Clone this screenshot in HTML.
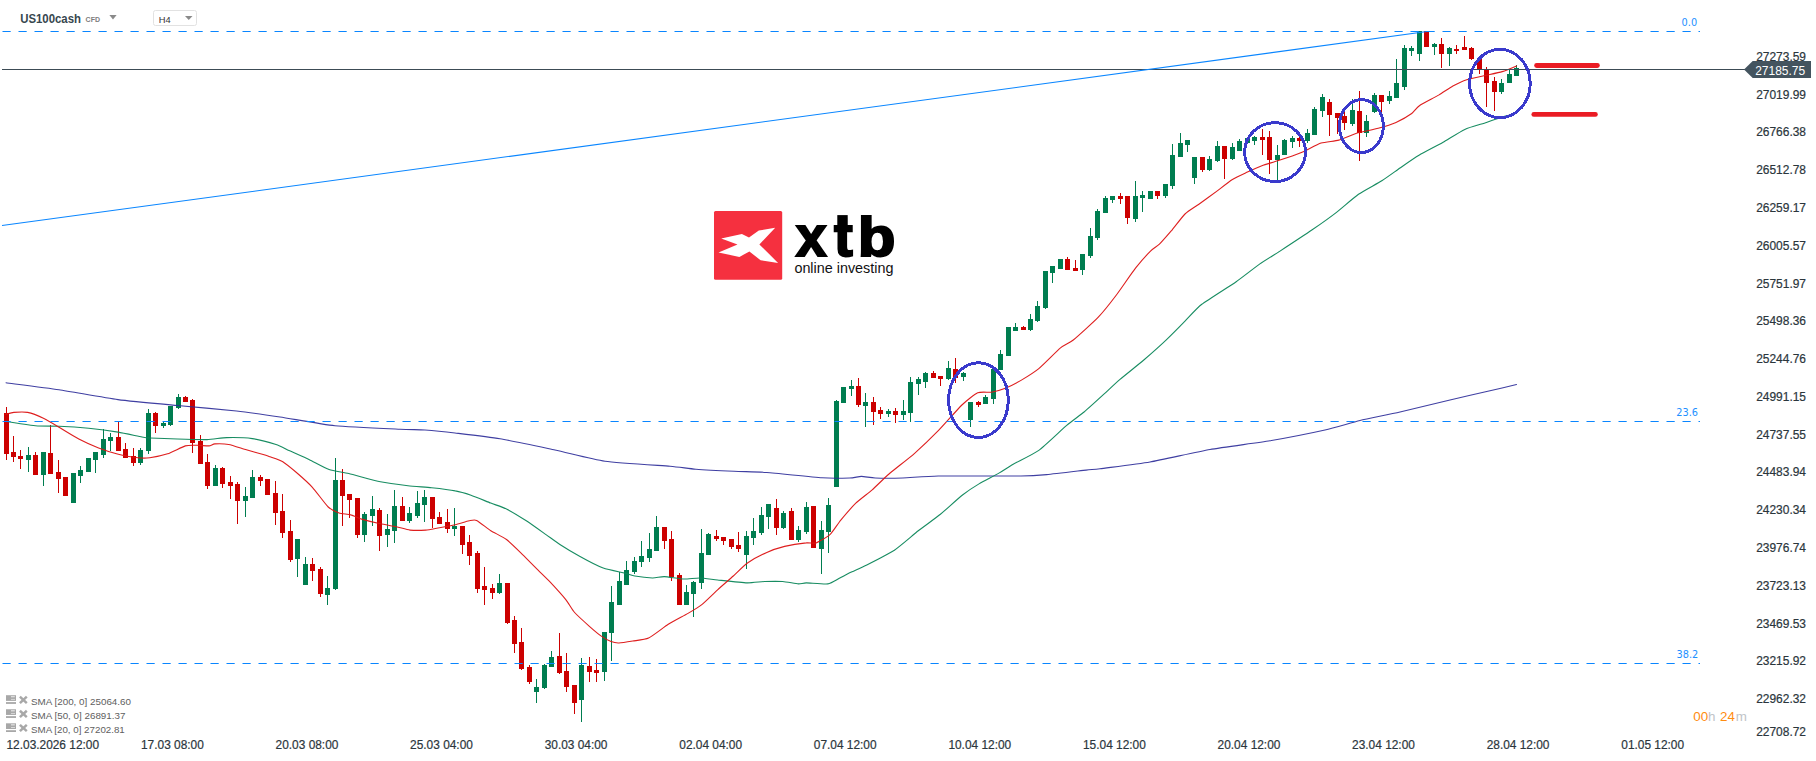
<!DOCTYPE html>
<html lang="en"><head><meta charset="utf-8"><title>US100cash H4 chart</title>
<style>html,body{margin:0;padding:0;background:#fff;}body{width:1816px;height:761px;overflow:hidden;}svg{display:block;font-family:"Liberation Sans",sans-serif;}.ax{font-size:12px;fill:#2b363c;stroke:#2b363c;stroke-width:0.2px;}.fib{font-family:"DejaVu Sans","Liberation Sans",sans-serif;font-size:9.75px;fill:#1e90ff;}.lg{font-size:9.4px;fill:#606060;}</style></head><body>
<svg width="1816" height="761" viewBox="0 0 1816 761">
<rect width="1816" height="761" fill="#ffffff"/>
<g shape-rendering="crispEdges">
<rect x="6" y="407" width="1" height="53" fill="#cc0000"/>
<rect x="4" y="413" width="5" height="41" fill="#cc0000"/>
<rect x="13" y="436" width="1" height="26" fill="#cc0000"/>
<rect x="11" y="452" width="5" height="5" fill="#cc0000"/>
<rect x="20" y="450" width="1" height="19" fill="#cc0000"/>
<rect x="18" y="456" width="5" height="3" fill="#cc0000"/>
<rect x="28" y="447" width="1" height="25" fill="#007d50"/>
<rect x="26" y="455" width="5" height="5" fill="#007d50"/>
<rect x="35" y="452" width="1" height="23" fill="#cc0000"/>
<rect x="33" y="455" width="5" height="20" fill="#cc0000"/>
<rect x="43" y="452" width="1" height="34" fill="#007d50"/>
<rect x="41" y="452" width="5" height="23" fill="#007d50"/>
<rect x="50" y="425" width="1" height="49" fill="#cc0000"/>
<rect x="48" y="453" width="5" height="21" fill="#cc0000"/>
<rect x="58" y="460" width="1" height="33" fill="#cc0000"/>
<rect x="56" y="472" width="5" height="7" fill="#cc0000"/>
<rect x="65" y="477" width="1" height="19" fill="#cc0000"/>
<rect x="63" y="477" width="5" height="19" fill="#cc0000"/>
<rect x="73" y="473" width="1" height="30" fill="#007d50"/>
<rect x="71" y="473" width="5" height="30" fill="#007d50"/>
<rect x="80" y="466" width="1" height="17" fill="#007d50"/>
<rect x="78" y="470" width="5" height="6" fill="#007d50"/>
<rect x="88" y="458" width="1" height="14" fill="#007d50"/>
<rect x="86" y="458" width="5" height="14" fill="#007d50"/>
<rect x="95" y="452" width="1" height="21" fill="#007d50"/>
<rect x="93" y="452" width="5" height="8" fill="#007d50"/>
<rect x="103" y="429" width="1" height="29" fill="#007d50"/>
<rect x="101" y="439" width="5" height="16" fill="#007d50"/>
<rect x="110" y="433" width="1" height="18" fill="#007d50"/>
<rect x="108" y="437" width="5" height="4" fill="#007d50"/>
<rect x="118" y="422" width="1" height="29" fill="#cc0000"/>
<rect x="116" y="437" width="5" height="14" fill="#cc0000"/>
<rect x="125" y="443" width="1" height="15" fill="#cc0000"/>
<rect x="123" y="449" width="5" height="9" fill="#cc0000"/>
<rect x="133" y="448" width="1" height="18" fill="#cc0000"/>
<rect x="131" y="456" width="5" height="7" fill="#cc0000"/>
<rect x="140" y="448" width="1" height="17" fill="#007d50"/>
<rect x="138" y="450" width="5" height="13" fill="#007d50"/>
<rect x="148" y="409" width="1" height="45" fill="#007d50"/>
<rect x="146" y="413" width="5" height="38" fill="#007d50"/>
<rect x="155" y="412" width="1" height="21" fill="#cc0000"/>
<rect x="153" y="413" width="5" height="13" fill="#cc0000"/>
<rect x="163" y="422" width="1" height="6" fill="#007d50"/>
<rect x="161" y="423" width="5" height="3" fill="#007d50"/>
<rect x="170" y="406" width="1" height="20" fill="#007d50"/>
<rect x="168" y="406" width="5" height="19" fill="#007d50"/>
<rect x="178" y="394" width="1" height="15" fill="#007d50"/>
<rect x="176" y="397" width="5" height="11" fill="#007d50"/>
<rect x="185" y="396" width="1" height="6" fill="#cc0000"/>
<rect x="183" y="397" width="5" height="5" fill="#cc0000"/>
<rect x="192" y="399" width="1" height="54" fill="#cc0000"/>
<rect x="190" y="400" width="5" height="43" fill="#cc0000"/>
<rect x="200" y="435" width="1" height="29" fill="#cc0000"/>
<rect x="198" y="441" width="5" height="23" fill="#cc0000"/>
<rect x="207" y="454" width="1" height="35" fill="#cc0000"/>
<rect x="205" y="462" width="5" height="24" fill="#cc0000"/>
<rect x="215" y="465" width="1" height="21" fill="#007d50"/>
<rect x="213" y="468" width="5" height="18" fill="#007d50"/>
<rect x="222" y="467" width="1" height="21" fill="#cc0000"/>
<rect x="220" y="468" width="5" height="16" fill="#cc0000"/>
<rect x="230" y="476" width="1" height="23" fill="#cc0000"/>
<rect x="228" y="482" width="5" height="4" fill="#cc0000"/>
<rect x="237" y="482" width="1" height="42" fill="#cc0000"/>
<rect x="235" y="484" width="5" height="17" fill="#cc0000"/>
<rect x="245" y="487" width="1" height="30" fill="#007d50"/>
<rect x="243" y="496" width="5" height="5" fill="#007d50"/>
<rect x="252" y="470" width="1" height="28" fill="#007d50"/>
<rect x="250" y="477" width="5" height="21" fill="#007d50"/>
<rect x="260" y="475" width="1" height="11" fill="#cc0000"/>
<rect x="258" y="477" width="5" height="4" fill="#cc0000"/>
<rect x="267" y="479" width="1" height="16" fill="#cc0000"/>
<rect x="265" y="479" width="5" height="16" fill="#cc0000"/>
<rect x="275" y="481" width="1" height="44" fill="#cc0000"/>
<rect x="273" y="493" width="5" height="20" fill="#cc0000"/>
<rect x="282" y="494" width="1" height="44" fill="#cc0000"/>
<rect x="280" y="511" width="5" height="22" fill="#cc0000"/>
<rect x="290" y="520" width="1" height="42" fill="#cc0000"/>
<rect x="288" y="531" width="5" height="29" fill="#cc0000"/>
<rect x="297" y="539" width="1" height="38" fill="#007d50"/>
<rect x="295" y="539" width="5" height="20" fill="#007d50"/>
<rect x="305" y="557" width="1" height="28" fill="#007d50"/>
<rect x="303" y="564" width="5" height="21" fill="#007d50"/>
<rect x="312" y="558" width="1" height="23" fill="#cc0000"/>
<rect x="310" y="564" width="5" height="7" fill="#cc0000"/>
<rect x="320" y="567" width="1" height="30" fill="#cc0000"/>
<rect x="318" y="569" width="5" height="25" fill="#cc0000"/>
<rect x="327" y="576" width="1" height="29" fill="#007d50"/>
<rect x="325" y="588" width="5" height="7" fill="#007d50"/>
<rect x="335" y="458" width="1" height="132" fill="#007d50"/>
<rect x="333" y="480" width="5" height="109" fill="#007d50"/>
<rect x="342" y="469" width="1" height="57" fill="#cc0000"/>
<rect x="340" y="480" width="5" height="16" fill="#cc0000"/>
<rect x="349" y="494" width="1" height="24" fill="#cc0000"/>
<rect x="347" y="494" width="5" height="6" fill="#cc0000"/>
<rect x="357" y="498" width="1" height="40" fill="#cc0000"/>
<rect x="355" y="498" width="5" height="37" fill="#cc0000"/>
<rect x="364" y="512" width="1" height="30" fill="#007d50"/>
<rect x="362" y="514" width="5" height="21" fill="#007d50"/>
<rect x="372" y="496" width="1" height="30" fill="#007d50"/>
<rect x="370" y="509" width="5" height="7" fill="#007d50"/>
<rect x="379" y="508" width="1" height="43" fill="#cc0000"/>
<rect x="377" y="510" width="5" height="26" fill="#cc0000"/>
<rect x="387" y="514" width="1" height="33" fill="#007d50"/>
<rect x="385" y="529" width="5" height="6" fill="#007d50"/>
<rect x="394" y="490" width="1" height="53" fill="#007d50"/>
<rect x="392" y="506" width="5" height="25" fill="#007d50"/>
<rect x="402" y="497" width="1" height="24" fill="#cc0000"/>
<rect x="400" y="506" width="5" height="15" fill="#cc0000"/>
<rect x="409" y="507" width="1" height="16" fill="#007d50"/>
<rect x="407" y="513" width="5" height="8" fill="#007d50"/>
<rect x="417" y="491" width="1" height="27" fill="#007d50"/>
<rect x="415" y="503" width="5" height="13" fill="#007d50"/>
<rect x="424" y="490" width="1" height="32" fill="#007d50"/>
<rect x="422" y="497" width="5" height="8" fill="#007d50"/>
<rect x="432" y="497" width="1" height="31" fill="#cc0000"/>
<rect x="430" y="497" width="5" height="22" fill="#cc0000"/>
<rect x="439" y="512" width="1" height="12" fill="#cc0000"/>
<rect x="437" y="517" width="5" height="7" fill="#cc0000"/>
<rect x="447" y="509" width="1" height="24" fill="#cc0000"/>
<rect x="445" y="522" width="5" height="7" fill="#cc0000"/>
<rect x="454" y="508" width="1" height="28" fill="#007d50"/>
<rect x="452" y="526" width="5" height="3" fill="#007d50"/>
<rect x="462" y="526" width="1" height="28" fill="#cc0000"/>
<rect x="460" y="526" width="5" height="19" fill="#cc0000"/>
<rect x="469" y="535" width="1" height="30" fill="#cc0000"/>
<rect x="467" y="542" width="5" height="14" fill="#cc0000"/>
<rect x="477" y="551" width="1" height="42" fill="#cc0000"/>
<rect x="475" y="553" width="5" height="36" fill="#cc0000"/>
<rect x="484" y="567" width="1" height="38" fill="#cc0000"/>
<rect x="482" y="586" width="5" height="4" fill="#cc0000"/>
<rect x="492" y="584" width="1" height="15" fill="#cc0000"/>
<rect x="490" y="588" width="5" height="5" fill="#cc0000"/>
<rect x="499" y="574" width="1" height="20" fill="#007d50"/>
<rect x="497" y="583" width="5" height="10" fill="#007d50"/>
<rect x="507" y="583" width="1" height="41" fill="#cc0000"/>
<rect x="505" y="583" width="5" height="40" fill="#cc0000"/>
<rect x="514" y="616" width="1" height="37" fill="#cc0000"/>
<rect x="512" y="620" width="5" height="24" fill="#cc0000"/>
<rect x="521" y="628" width="1" height="42" fill="#cc0000"/>
<rect x="519" y="642" width="5" height="27" fill="#cc0000"/>
<rect x="529" y="665" width="1" height="19" fill="#cc0000"/>
<rect x="527" y="667" width="5" height="15" fill="#cc0000"/>
<rect x="536" y="679" width="1" height="24" fill="#007d50"/>
<rect x="534" y="687" width="5" height="5" fill="#007d50"/>
<rect x="544" y="664" width="1" height="25" fill="#007d50"/>
<rect x="542" y="665" width="5" height="23" fill="#007d50"/>
<rect x="551" y="651" width="1" height="16" fill="#007d50"/>
<rect x="549" y="657" width="5" height="10" fill="#007d50"/>
<rect x="559" y="633" width="1" height="41" fill="#cc0000"/>
<rect x="557" y="656" width="5" height="17" fill="#cc0000"/>
<rect x="566" y="653" width="1" height="39" fill="#cc0000"/>
<rect x="564" y="671" width="5" height="16" fill="#cc0000"/>
<rect x="574" y="685" width="1" height="29" fill="#cc0000"/>
<rect x="572" y="685" width="5" height="18" fill="#cc0000"/>
<rect x="581" y="658" width="1" height="64" fill="#007d50"/>
<rect x="579" y="665" width="5" height="35" fill="#007d50"/>
<rect x="589" y="657" width="1" height="25" fill="#cc0000"/>
<rect x="587" y="666" width="5" height="6" fill="#cc0000"/>
<rect x="596" y="659" width="1" height="23" fill="#cc0000"/>
<rect x="594" y="670" width="5" height="3" fill="#cc0000"/>
<rect x="604" y="632" width="1" height="49" fill="#007d50"/>
<rect x="602" y="632" width="5" height="40" fill="#007d50"/>
<rect x="611" y="586" width="1" height="75" fill="#007d50"/>
<rect x="609" y="602" width="5" height="31" fill="#007d50"/>
<rect x="619" y="572" width="1" height="33" fill="#007d50"/>
<rect x="617" y="581" width="5" height="24" fill="#007d50"/>
<rect x="626" y="561" width="1" height="24" fill="#007d50"/>
<rect x="624" y="570" width="5" height="15" fill="#007d50"/>
<rect x="634" y="557" width="1" height="17" fill="#007d50"/>
<rect x="632" y="561" width="5" height="11" fill="#007d50"/>
<rect x="641" y="541" width="1" height="26" fill="#007d50"/>
<rect x="639" y="556" width="5" height="6" fill="#007d50"/>
<rect x="649" y="533" width="1" height="29" fill="#007d50"/>
<rect x="647" y="549" width="5" height="9" fill="#007d50"/>
<rect x="656" y="516" width="1" height="35" fill="#007d50"/>
<rect x="654" y="527" width="5" height="24" fill="#007d50"/>
<rect x="664" y="527" width="1" height="22" fill="#cc0000"/>
<rect x="662" y="527" width="5" height="14" fill="#cc0000"/>
<rect x="671" y="531" width="1" height="50" fill="#cc0000"/>
<rect x="669" y="539" width="5" height="38" fill="#cc0000"/>
<rect x="679" y="573" width="1" height="32" fill="#cc0000"/>
<rect x="677" y="575" width="5" height="30" fill="#cc0000"/>
<rect x="686" y="585" width="1" height="20" fill="#007d50"/>
<rect x="684" y="592" width="5" height="13" fill="#007d50"/>
<rect x="693" y="581" width="1" height="36" fill="#007d50"/>
<rect x="691" y="582" width="5" height="12" fill="#007d50"/>
<rect x="701" y="529" width="1" height="60" fill="#007d50"/>
<rect x="699" y="553" width="5" height="30" fill="#007d50"/>
<rect x="708" y="533" width="1" height="22" fill="#007d50"/>
<rect x="706" y="534" width="5" height="21" fill="#007d50"/>
<rect x="716" y="530" width="1" height="11" fill="#cc0000"/>
<rect x="714" y="536" width="5" height="3" fill="#cc0000"/>
<rect x="723" y="537" width="1" height="8" fill="#cc0000"/>
<rect x="721" y="537" width="5" height="4" fill="#cc0000"/>
<rect x="731" y="539" width="1" height="10" fill="#cc0000"/>
<rect x="729" y="539" width="5" height="8" fill="#cc0000"/>
<rect x="738" y="532" width="1" height="20" fill="#cc0000"/>
<rect x="736" y="545" width="5" height="4" fill="#cc0000"/>
<rect x="746" y="531" width="1" height="38" fill="#007d50"/>
<rect x="744" y="536" width="5" height="19" fill="#007d50"/>
<rect x="753" y="518" width="1" height="27" fill="#007d50"/>
<rect x="751" y="531" width="5" height="7" fill="#007d50"/>
<rect x="761" y="507" width="1" height="28" fill="#007d50"/>
<rect x="759" y="515" width="5" height="18" fill="#007d50"/>
<rect x="768" y="504" width="1" height="25" fill="#007d50"/>
<rect x="766" y="504" width="5" height="13" fill="#007d50"/>
<rect x="776" y="499" width="1" height="36" fill="#cc0000"/>
<rect x="774" y="508" width="5" height="20" fill="#cc0000"/>
<rect x="783" y="511" width="1" height="18" fill="#007d50"/>
<rect x="781" y="513" width="5" height="15" fill="#007d50"/>
<rect x="791" y="508" width="1" height="32" fill="#cc0000"/>
<rect x="789" y="511" width="5" height="29" fill="#cc0000"/>
<rect x="798" y="526" width="1" height="16" fill="#007d50"/>
<rect x="796" y="530" width="5" height="10" fill="#007d50"/>
<rect x="806" y="502" width="1" height="32" fill="#007d50"/>
<rect x="804" y="507" width="5" height="25" fill="#007d50"/>
<rect x="813" y="506" width="1" height="42" fill="#cc0000"/>
<rect x="811" y="506" width="5" height="42" fill="#cc0000"/>
<rect x="821" y="521" width="1" height="53" fill="#007d50"/>
<rect x="819" y="530" width="5" height="19" fill="#007d50"/>
<rect x="828" y="498" width="1" height="55" fill="#007d50"/>
<rect x="826" y="505" width="5" height="27" fill="#007d50"/>
<rect x="836" y="400" width="1" height="87" fill="#007d50"/>
<rect x="834" y="401" width="5" height="86" fill="#007d50"/>
<rect x="843" y="387" width="1" height="16" fill="#007d50"/>
<rect x="841" y="387" width="5" height="16" fill="#007d50"/>
<rect x="851" y="380" width="1" height="16" fill="#007d50"/>
<rect x="849" y="386" width="5" height="3" fill="#007d50"/>
<rect x="858" y="378" width="1" height="29" fill="#cc0000"/>
<rect x="856" y="386" width="5" height="19" fill="#cc0000"/>
<rect x="865" y="393" width="1" height="34" fill="#007d50"/>
<rect x="863" y="402" width="5" height="4" fill="#007d50"/>
<rect x="873" y="397" width="1" height="28" fill="#cc0000"/>
<rect x="871" y="402" width="5" height="10" fill="#cc0000"/>
<rect x="880" y="407" width="1" height="12" fill="#cc0000"/>
<rect x="878" y="410" width="5" height="4" fill="#cc0000"/>
<rect x="888" y="409" width="1" height="8" fill="#007d50"/>
<rect x="886" y="411" width="5" height="3" fill="#007d50"/>
<rect x="895" y="408" width="1" height="15" fill="#cc0000"/>
<rect x="893" y="411" width="5" height="4" fill="#cc0000"/>
<rect x="903" y="400" width="1" height="20" fill="#007d50"/>
<rect x="901" y="411" width="5" height="4" fill="#007d50"/>
<rect x="910" y="377" width="1" height="45" fill="#007d50"/>
<rect x="908" y="382" width="5" height="31" fill="#007d50"/>
<rect x="918" y="377" width="1" height="18" fill="#007d50"/>
<rect x="916" y="379" width="5" height="5" fill="#007d50"/>
<rect x="925" y="372" width="1" height="16" fill="#007d50"/>
<rect x="923" y="373" width="5" height="9" fill="#007d50"/>
<rect x="933" y="371" width="1" height="7" fill="#cc0000"/>
<rect x="931" y="373" width="5" height="5" fill="#cc0000"/>
<rect x="940" y="376" width="1" height="10" fill="#cc0000"/>
<rect x="938" y="376" width="5" height="3" fill="#cc0000"/>
<rect x="948" y="361" width="1" height="19" fill="#007d50"/>
<rect x="946" y="368" width="5" height="11" fill="#007d50"/>
<rect x="955" y="358" width="1" height="25" fill="#cc0000"/>
<rect x="953" y="369" width="5" height="9" fill="#cc0000"/>
<rect x="963" y="372" width="1" height="9" fill="#007d50"/>
<rect x="961" y="373" width="5" height="4" fill="#007d50"/>
<rect x="970" y="402" width="1" height="25" fill="#007d50"/>
<rect x="968" y="402" width="5" height="18" fill="#007d50"/>
<rect x="978" y="401" width="1" height="6" fill="#cc0000"/>
<rect x="976" y="402" width="5" height="3" fill="#cc0000"/>
<rect x="985" y="395" width="1" height="9" fill="#007d50"/>
<rect x="983" y="397" width="5" height="7" fill="#007d50"/>
<rect x="993" y="369" width="1" height="35" fill="#007d50"/>
<rect x="991" y="369" width="5" height="30" fill="#007d50"/>
<rect x="1000" y="350" width="1" height="20" fill="#007d50"/>
<rect x="998" y="354" width="5" height="16" fill="#007d50"/>
<rect x="1008" y="327" width="1" height="29" fill="#007d50"/>
<rect x="1006" y="327" width="5" height="29" fill="#007d50"/>
<rect x="1015" y="323" width="1" height="8" fill="#007d50"/>
<rect x="1013" y="327" width="5" height="4" fill="#007d50"/>
<rect x="1023" y="326" width="1" height="4" fill="#cc0000"/>
<rect x="1021" y="327" width="5" height="3" fill="#cc0000"/>
<rect x="1030" y="314" width="1" height="17" fill="#007d50"/>
<rect x="1028" y="319" width="5" height="11" fill="#007d50"/>
<rect x="1037" y="301" width="1" height="21" fill="#007d50"/>
<rect x="1035" y="306" width="5" height="15" fill="#007d50"/>
<rect x="1045" y="271" width="1" height="38" fill="#007d50"/>
<rect x="1043" y="271" width="5" height="37" fill="#007d50"/>
<rect x="1052" y="266" width="1" height="17" fill="#007d50"/>
<rect x="1050" y="266" width="5" height="7" fill="#007d50"/>
<rect x="1060" y="259" width="1" height="10" fill="#007d50"/>
<rect x="1058" y="259" width="5" height="10" fill="#007d50"/>
<rect x="1067" y="257" width="1" height="13" fill="#cc0000"/>
<rect x="1065" y="259" width="5" height="11" fill="#cc0000"/>
<rect x="1075" y="260" width="1" height="11" fill="#cc0000"/>
<rect x="1073" y="268" width="5" height="3" fill="#cc0000"/>
<rect x="1082" y="254" width="1" height="21" fill="#007d50"/>
<rect x="1080" y="254" width="5" height="16" fill="#007d50"/>
<rect x="1090" y="228" width="1" height="30" fill="#007d50"/>
<rect x="1088" y="236" width="5" height="20" fill="#007d50"/>
<rect x="1097" y="209" width="1" height="31" fill="#007d50"/>
<rect x="1095" y="211" width="5" height="27" fill="#007d50"/>
<rect x="1105" y="196" width="1" height="17" fill="#007d50"/>
<rect x="1103" y="198" width="5" height="15" fill="#007d50"/>
<rect x="1112" y="196" width="1" height="7" fill="#007d50"/>
<rect x="1110" y="196" width="5" height="4" fill="#007d50"/>
<rect x="1120" y="193" width="1" height="11" fill="#cc0000"/>
<rect x="1118" y="196" width="5" height="3" fill="#cc0000"/>
<rect x="1127" y="196" width="1" height="28" fill="#cc0000"/>
<rect x="1125" y="196" width="5" height="22" fill="#cc0000"/>
<rect x="1135" y="181" width="1" height="41" fill="#007d50"/>
<rect x="1133" y="196" width="5" height="23" fill="#007d50"/>
<rect x="1142" y="191" width="1" height="21" fill="#007d50"/>
<rect x="1140" y="195" width="5" height="3" fill="#007d50"/>
<rect x="1150" y="191" width="1" height="8" fill="#007d50"/>
<rect x="1148" y="191" width="5" height="8" fill="#007d50"/>
<rect x="1157" y="191" width="1" height="8" fill="#cc0000"/>
<rect x="1155" y="191" width="5" height="5" fill="#cc0000"/>
<rect x="1165" y="184" width="1" height="14" fill="#007d50"/>
<rect x="1163" y="184" width="5" height="12" fill="#007d50"/>
<rect x="1172" y="144" width="1" height="45" fill="#007d50"/>
<rect x="1170" y="155" width="5" height="31" fill="#007d50"/>
<rect x="1180" y="133" width="1" height="24" fill="#007d50"/>
<rect x="1178" y="143" width="5" height="14" fill="#007d50"/>
<rect x="1187" y="140" width="1" height="12" fill="#007d50"/>
<rect x="1185" y="140" width="5" height="5" fill="#007d50"/>
<rect x="1194" y="157" width="1" height="27" fill="#007d50"/>
<rect x="1192" y="157" width="5" height="21" fill="#007d50"/>
<rect x="1202" y="157" width="1" height="15" fill="#cc0000"/>
<rect x="1200" y="157" width="5" height="13" fill="#cc0000"/>
<rect x="1209" y="156" width="1" height="15" fill="#007d50"/>
<rect x="1207" y="159" width="5" height="11" fill="#007d50"/>
<rect x="1217" y="141" width="1" height="21" fill="#007d50"/>
<rect x="1215" y="146" width="5" height="15" fill="#007d50"/>
<rect x="1224" y="146" width="1" height="33" fill="#cc0000"/>
<rect x="1222" y="146" width="5" height="13" fill="#cc0000"/>
<rect x="1232" y="143" width="1" height="17" fill="#007d50"/>
<rect x="1230" y="147" width="5" height="12" fill="#007d50"/>
<rect x="1239" y="139" width="1" height="12" fill="#007d50"/>
<rect x="1237" y="141" width="5" height="10" fill="#007d50"/>
<rect x="1247" y="138" width="1" height="5" fill="#007d50"/>
<rect x="1245" y="138" width="5" height="5" fill="#007d50"/>
<rect x="1254" y="136" width="1" height="9" fill="#007d50"/>
<rect x="1252" y="137" width="5" height="4" fill="#007d50"/>
<rect x="1262" y="129" width="1" height="26" fill="#cc0000"/>
<rect x="1260" y="137" width="5" height="3" fill="#cc0000"/>
<rect x="1269" y="131" width="1" height="43" fill="#cc0000"/>
<rect x="1267" y="137" width="5" height="23" fill="#cc0000"/>
<rect x="1277" y="145" width="1" height="35" fill="#007d50"/>
<rect x="1275" y="155" width="5" height="5" fill="#007d50"/>
<rect x="1284" y="139" width="1" height="16" fill="#007d50"/>
<rect x="1282" y="140" width="5" height="15" fill="#007d50"/>
<rect x="1292" y="136" width="1" height="12" fill="#007d50"/>
<rect x="1290" y="138" width="5" height="4" fill="#007d50"/>
<rect x="1299" y="137" width="1" height="10" fill="#cc0000"/>
<rect x="1297" y="138" width="5" height="3" fill="#cc0000"/>
<rect x="1307" y="129" width="1" height="14" fill="#007d50"/>
<rect x="1305" y="133" width="5" height="8" fill="#007d50"/>
<rect x="1314" y="107" width="1" height="28" fill="#007d50"/>
<rect x="1312" y="109" width="5" height="26" fill="#007d50"/>
<rect x="1322" y="94" width="1" height="23" fill="#007d50"/>
<rect x="1320" y="97" width="5" height="14" fill="#007d50"/>
<rect x="1329" y="99" width="1" height="37" fill="#cc0000"/>
<rect x="1327" y="102" width="5" height="13" fill="#cc0000"/>
<rect x="1337" y="113" width="1" height="21" fill="#cc0000"/>
<rect x="1335" y="113" width="5" height="5" fill="#cc0000"/>
<rect x="1344" y="112" width="1" height="18" fill="#cc0000"/>
<rect x="1342" y="116" width="5" height="7" fill="#cc0000"/>
<rect x="1352" y="99" width="1" height="27" fill="#007d50"/>
<rect x="1350" y="110" width="5" height="14" fill="#007d50"/>
<rect x="1359" y="91" width="1" height="70" fill="#cc0000"/>
<rect x="1357" y="111" width="5" height="22" fill="#cc0000"/>
<rect x="1366" y="115" width="1" height="22" fill="#007d50"/>
<rect x="1364" y="121" width="5" height="12" fill="#007d50"/>
<rect x="1374" y="93" width="1" height="20" fill="#007d50"/>
<rect x="1372" y="95" width="5" height="17" fill="#007d50"/>
<rect x="1381" y="95" width="1" height="17" fill="#cc0000"/>
<rect x="1379" y="95" width="5" height="7" fill="#cc0000"/>
<rect x="1389" y="91" width="1" height="13" fill="#007d50"/>
<rect x="1387" y="96" width="5" height="5" fill="#007d50"/>
<rect x="1396" y="59" width="1" height="39" fill="#007d50"/>
<rect x="1394" y="83" width="5" height="15" fill="#007d50"/>
<rect x="1404" y="45" width="1" height="45" fill="#007d50"/>
<rect x="1402" y="48" width="5" height="39" fill="#007d50"/>
<rect x="1411" y="46" width="1" height="10" fill="#007d50"/>
<rect x="1409" y="48" width="5" height="3" fill="#007d50"/>
<rect x="1419" y="31" width="1" height="30" fill="#007d50"/>
<rect x="1417" y="31" width="5" height="23" fill="#007d50"/>
<rect x="1426" y="31" width="1" height="16" fill="#cc0000"/>
<rect x="1424" y="31" width="5" height="16" fill="#cc0000"/>
<rect x="1434" y="43" width="1" height="12" fill="#007d50"/>
<rect x="1432" y="44" width="5" height="3" fill="#007d50"/>
<rect x="1441" y="38" width="1" height="30" fill="#cc0000"/>
<rect x="1439" y="44" width="5" height="10" fill="#cc0000"/>
<rect x="1449" y="47" width="1" height="19" fill="#007d50"/>
<rect x="1447" y="48" width="5" height="6" fill="#007d50"/>
<rect x="1456" y="45" width="1" height="9" fill="#cc0000"/>
<rect x="1454" y="49" width="5" height="2" fill="#cc0000"/>
<rect x="1464" y="36" width="1" height="14" fill="#cc0000"/>
<rect x="1462" y="47" width="5" height="3" fill="#cc0000"/>
<rect x="1471" y="47" width="1" height="13" fill="#cc0000"/>
<rect x="1469" y="48" width="5" height="11" fill="#cc0000"/>
<rect x="1479" y="56" width="1" height="18" fill="#cc0000"/>
<rect x="1477" y="58" width="5" height="12" fill="#cc0000"/>
<rect x="1486" y="67" width="1" height="40" fill="#cc0000"/>
<rect x="1484" y="69" width="5" height="14" fill="#cc0000"/>
<rect x="1494" y="77" width="1" height="34" fill="#cc0000"/>
<rect x="1492" y="81" width="5" height="11" fill="#cc0000"/>
<rect x="1501" y="79" width="1" height="15" fill="#007d50"/>
<rect x="1499" y="83" width="5" height="9" fill="#007d50"/>
<rect x="1509" y="69" width="1" height="14" fill="#007d50"/>
<rect x="1507" y="74" width="5" height="9" fill="#007d50"/>
<rect x="1516" y="65" width="1" height="11" fill="#007d50"/>
<rect x="1514" y="68" width="5" height="8" fill="#007d50"/>
</g>
<path d="M6.0,382.8C11.3,383.5 47.8,388.0 59.0,389.7C70.2,391.4 106.2,398.0 118.0,399.6C129.8,401.2 165.6,404.4 177.4,405.5C189.2,406.6 226.2,409.9 236.5,411.0C246.8,412.1 270.1,415.5 280.0,417.0C289.9,418.5 323.0,424.5 335.0,425.8C347.0,427.0 391.0,428.8 400.0,429.2C409.0,429.7 419.5,429.6 425.0,430.0C430.5,430.4 447.5,432.1 455.0,433.0C462.5,433.9 490.0,437.1 500.0,438.8C510.0,440.4 544.5,447.8 555.0,450.0C565.5,452.2 593.5,459.6 605.0,461.2C616.5,462.9 660.9,465.5 670.0,466.2C679.1,467.0 689.5,468.7 695.9,469.2C702.3,469.7 726.9,470.9 734.0,471.2C741.1,471.6 758.0,471.8 766.8,472.5C775.6,473.2 813.7,477.2 822.0,477.8C830.3,478.4 845.7,478.1 849.6,478.0C853.5,477.9 858.8,476.4 861.4,476.4C864.0,476.4 871.1,477.8 875.2,478.0C879.3,478.2 896.5,478.2 902.8,478.0C909.1,477.8 926.5,476.2 938.3,476.0C950.1,475.8 1010.2,476.1 1021.0,476.0C1031.8,475.9 1040.2,475.2 1046.7,474.6C1053.2,474.0 1080.8,470.7 1086.1,470.1C1091.4,469.5 1093.6,469.6 1100.0,468.8C1106.4,467.9 1139.0,463.9 1150.0,462.0C1161.0,460.1 1198.0,451.6 1210.0,449.5C1222.0,447.4 1258.5,442.7 1270.0,440.8C1281.5,438.8 1316.0,432.0 1325.0,430.0C1334.0,428.0 1352.5,422.3 1360.0,420.5C1367.5,418.7 1391.0,414.1 1400.0,412.0C1409.0,409.9 1441.0,402.1 1450.0,400.0C1459.0,397.9 1483.3,392.3 1490.0,390.8C1496.7,389.2 1513.8,385.1 1516.5,384.5" fill="none" stroke="#2a2a98" stroke-width="1.1" stroke-linejoin="round" stroke-linecap="round" opacity="0.9"/>
<path d="M6.0,421.3C8.9,421.8 30.2,425.3 35.5,425.8C40.8,426.3 53.7,426.0 59.0,426.2C64.3,426.4 82.8,427.6 88.7,428.2C94.6,428.8 112.7,431.2 118.0,432.1C123.3,433.0 138.8,436.4 142.0,437.0C145.2,437.6 146.5,437.8 150.0,438.0C153.5,438.2 171.7,438.8 177.4,439.0C183.1,439.2 202.1,439.7 207.0,439.6C211.9,439.5 222.2,437.7 226.7,437.6C231.2,437.5 247.4,437.9 252.3,438.6C257.2,439.3 272.3,443.3 276.0,444.5C279.7,445.7 286.4,449.3 289.7,450.8C293.0,452.3 305.5,457.8 309.4,459.7C313.3,461.6 325.2,468.2 329.1,469.6C333.0,471.0 343.7,472.3 348.8,473.5C353.9,474.7 374.5,480.6 380.4,481.8C386.3,483.0 402.9,485.1 408.0,485.7C413.1,486.3 426.9,487.2 431.6,487.7C436.3,488.2 451.4,490.1 455.3,490.9C459.2,491.6 467.4,494.0 471.0,495.2C474.6,496.4 487.2,501.7 490.8,503.1C494.4,504.5 502.9,507.2 506.5,509.0C510.1,510.8 522.3,518.2 526.3,520.8C530.2,523.4 542.6,532.2 546.0,534.6C549.4,537.0 556.5,542.3 559.9,544.5C563.3,546.7 575.3,553.9 579.6,556.3C583.9,558.7 598.7,566.4 603.2,568.1C607.7,569.8 621.7,572.3 624.9,573.1C628.1,573.9 632.0,575.5 634.8,576.0C637.6,576.5 649.5,577.9 652.5,578.0C655.5,578.1 661.1,576.5 664.3,576.6C667.4,576.7 680.5,578.9 684.0,579.0C687.5,579.1 696.4,577.9 699.8,578.0C703.2,578.1 712.9,579.5 717.6,580.0C722.3,580.5 742.4,582.8 747.1,582.9C751.8,583.0 761.4,581.6 764.9,581.5C768.4,581.4 779.2,581.3 782.6,581.5C786.0,581.7 796.0,583.8 798.4,583.9C800.8,584.0 803.3,582.9 806.3,582.9C809.2,582.9 824.5,584.4 827.9,583.9C831.2,583.4 837.6,579.1 839.8,578.0C842.0,576.9 847.5,573.9 850.2,572.6C852.9,571.3 862.4,567.1 866.8,564.9C871.2,562.7 889.2,553.6 894.4,550.2C899.5,546.8 913.7,534.4 918.3,530.8C922.9,527.2 936.0,517.9 940.4,514.3C944.8,510.7 958.6,498.0 962.5,495.0C966.4,492.0 975.3,486.1 979.0,483.9C982.7,481.7 995.9,474.9 999.3,472.9C1002.7,470.9 1009.2,466.4 1013.2,464.2C1017.2,461.9 1033.5,454.2 1038.8,450.4C1044.1,446.5 1061.9,429.5 1066.4,425.7C1070.9,421.9 1080.3,415.1 1084.1,412.0C1087.8,408.9 1100.3,397.5 1103.9,394.2C1107.5,390.9 1116.0,382.8 1120.0,379.4C1124.0,376.0 1139.1,364.0 1143.8,360.0C1148.4,356.0 1162.2,343.7 1166.3,339.8C1170.4,335.9 1181.5,324.7 1185.0,321.1C1188.5,317.6 1196.7,308.2 1201.8,304.3C1206.9,300.4 1230.4,285.7 1236.2,281.7C1242.0,277.7 1255.5,267.0 1259.9,263.9C1264.3,260.8 1274.8,254.5 1280.0,251.1C1285.2,247.7 1306.5,233.7 1312.2,229.8C1317.9,225.9 1332.2,215.7 1336.8,212.1C1341.4,208.5 1354.0,197.5 1358.5,194.3C1363.0,191.1 1377.9,183.3 1382.2,180.5C1386.5,177.7 1398.2,169.2 1401.9,166.7C1405.6,164.1 1415.3,157.4 1419.4,155.0C1423.5,152.6 1438.6,144.8 1443.1,142.2C1447.6,139.6 1460.5,131.4 1464.8,129.4C1469.1,127.4 1482.9,123.7 1486.4,122.5C1489.9,121.3 1497.2,118.5 1500.2,117.6C1503.2,116.7 1514.9,113.8 1516.5,113.4" fill="none" stroke="#0b8658" stroke-width="1.1" stroke-linejoin="round" stroke-linecap="round" opacity="0.95"/>
<path d="M6.0,414.4C6.8,414.2 11.6,412.6 13.8,412.4C16.0,412.2 24.6,411.8 27.6,412.4C30.6,413.0 40.3,416.8 43.4,418.3C46.5,419.8 55.5,425.1 59.0,427.2C62.5,429.3 74.8,436.9 78.8,439.0C82.8,441.1 94.6,446.4 98.6,447.9C102.5,449.4 114.4,453.2 118.3,454.2C122.2,455.2 134.8,457.3 138.0,457.7C141.2,458.1 146.8,458.1 149.8,457.7C152.8,457.3 164.0,455.0 167.6,453.8C171.2,452.6 182.4,446.8 185.3,445.9C188.2,445.0 194.6,445.3 197.0,445.3C199.4,445.3 207.2,446.0 209.0,445.9C210.8,445.8 212.9,444.0 214.9,443.9C216.9,443.8 225.5,443.9 228.7,444.5C231.8,445.1 242.9,448.8 246.4,449.8C249.9,450.8 261.7,454.1 264.1,454.8C266.5,455.5 268.1,456.1 270.0,456.8C271.9,457.5 280.0,460.0 282.8,461.7C285.6,463.4 294.6,470.9 297.6,473.5C300.6,476.1 309.3,483.9 312.4,487.3C315.5,490.7 325.5,504.4 328.2,507.0C330.9,509.6 336.7,512.1 339.0,512.9C341.3,513.7 348.4,514.2 350.8,514.9C353.2,515.5 359.6,518.5 362.6,519.4C365.6,520.3 377.0,523.1 380.4,523.8C383.8,524.5 393.2,526.1 396.2,526.7C399.2,527.3 407.1,529.8 410.0,530.1C412.9,530.4 422.8,530.3 425.7,530.1C428.6,529.9 436.5,528.2 439.5,527.7C442.5,527.2 452.3,525.5 455.3,524.8C458.3,524.1 467.0,521.2 469.1,520.8C471.2,520.4 474.4,519.4 476.6,520.4C478.8,521.4 487.8,528.8 490.8,530.7C493.8,532.6 503.4,537.1 506.5,539.5C509.6,541.9 519.1,551.2 522.3,554.3C525.5,557.4 535.3,567.3 538.1,570.1C540.9,572.9 547.2,578.9 550.0,581.9C552.8,584.9 563.3,596.5 565.8,599.6C568.3,602.7 572.2,609.8 574.6,612.5C577.0,615.2 586.7,623.9 589.4,626.3C592.1,628.7 599.1,634.6 601.3,636.1C603.5,637.6 609.3,640.9 611.1,641.6C612.9,642.3 616.8,643.1 619.0,643.0C621.2,642.9 629.8,641.5 632.8,641.0C635.8,640.5 645.1,639.8 648.6,638.1C652.1,636.4 664.4,626.8 668.3,624.3C672.2,621.8 684.6,615.4 688.0,613.4C691.4,611.4 698.8,607.0 701.8,604.6C704.8,602.2 714.5,592.7 717.6,589.8C720.8,586.9 730.3,578.7 733.3,576.0C736.2,573.3 743.8,565.6 747.1,563.2C750.5,560.8 763.0,554.1 766.8,552.4C770.5,550.7 780.6,547.4 784.6,546.4C788.6,545.4 803.1,543.2 806.3,542.9C809.4,542.5 813.7,543.7 816.1,542.9C818.5,542.1 827.4,536.9 829.9,534.6C832.4,532.3 838.4,522.9 841.0,519.8C843.6,516.7 852.7,506.2 855.8,503.2C858.9,500.2 868.9,492.7 872.2,489.8C875.5,486.9 884.8,477.6 889.0,474.0C893.2,470.4 909.7,457.6 914.6,453.3C919.5,449.0 933.6,435.5 938.3,430.7C943.0,425.9 958.0,408.8 961.9,405.0C965.8,401.2 974.7,394.1 977.7,392.8C980.7,391.5 988.7,392.6 991.5,392.2C994.3,391.8 1002.3,389.5 1005.3,388.3C1008.2,387.1 1017.6,382.4 1021.0,380.4C1024.3,378.4 1034.8,371.9 1038.8,368.6C1042.8,365.4 1057.0,350.8 1060.5,347.9C1064.0,345.0 1069.5,343.1 1073.3,340.0C1077.1,336.9 1094.0,321.6 1098.3,317.1C1102.6,312.7 1112.3,300.4 1116.0,295.5C1119.7,290.6 1132.2,272.3 1135.7,267.9C1139.2,263.5 1148.1,253.5 1150.5,251.1C1152.9,248.7 1157.2,246.3 1159.4,244.2C1161.6,242.1 1169.6,232.8 1172.2,229.8C1174.8,226.8 1182.3,216.6 1185.0,214.0C1187.7,211.4 1195.7,206.5 1198.9,204.2C1202.1,201.9 1213.2,193.9 1216.6,191.4C1219.9,188.9 1229.4,181.4 1232.4,179.5C1235.4,177.6 1243.2,174.0 1246.2,172.6C1249.2,171.2 1258.8,166.9 1261.9,165.7C1265.1,164.5 1273.8,162.1 1277.7,160.8C1281.7,159.5 1297.1,154.3 1301.4,152.5C1305.7,150.7 1317.4,144.3 1321.1,143.1C1324.8,141.9 1335.3,141.1 1338.8,140.1C1342.3,139.1 1352.6,134.4 1356.5,133.2C1360.4,132.0 1374.2,129.4 1378.2,128.3C1382.2,127.2 1392.7,123.9 1396.0,122.4C1399.3,120.9 1409.4,115.2 1411.7,113.5C1414.0,111.8 1416.7,107.6 1419.4,105.7C1422.1,103.8 1435.8,96.9 1439.1,94.9C1442.4,92.9 1450.1,87.5 1452.9,86.0C1455.7,84.5 1463.4,80.8 1466.7,79.7C1470.0,78.6 1482.9,76.0 1486.4,75.2C1490.0,74.4 1499.2,72.5 1502.2,71.6C1505.2,70.7 1515.2,66.5 1516.6,65.9" fill="none" stroke="#dc1212" stroke-width="1.1" stroke-linejoin="round" stroke-linecap="round" opacity="0.95"/>
<rect x="2" y="69" width="1744" height="1" fill="#3c4b55"/>
<line x1="2.5" y1="31.5" x2="1700" y2="31.5" stroke="#0a86ff" stroke-width="1.15" stroke-dasharray="8.2 7.8"/>
<line x1="2.5" y1="421.5" x2="1700" y2="421.5" stroke="#0a86ff" stroke-width="1.15" stroke-dasharray="8.2 7.8"/>
<line x1="2.5" y1="663.5" x2="1700" y2="663.5" stroke="#0a86ff" stroke-width="1.15" stroke-dasharray="8.2 7.8"/>
<line x1="2" y1="225.5" x2="1427" y2="31.5" stroke="#0a86ff" stroke-width="1.05"/>
<text class="fib" x="1681.6" y="26">0.0</text>
<text class="fib" x="1676.3" y="415.6">23.6</text>
<text class="fib" x="1676.5" y="658.3">38.2</text>
<ellipse cx="978.45" cy="400.1" rx="29.85" ry="37.4" fill="none" stroke="#3a3acc" stroke-width="3" shape-rendering="crispEdges"/>
<ellipse cx="1275.05" cy="152.1" rx="30.45" ry="29.4" fill="none" stroke="#3a3acc" stroke-width="3" shape-rendering="crispEdges"/>
<ellipse cx="1361.35" cy="126.05" rx="21.95" ry="26.45" fill="none" stroke="#3a3acc" stroke-width="3" shape-rendering="crispEdges"/>
<ellipse cx="1499.9" cy="83.5" rx="30.3" ry="34.1" fill="none" stroke="#3a3acc" stroke-width="3" shape-rendering="crispEdges"/>
<line x1="1536.6" y1="65.5" x2="1597.4" y2="65.5" stroke="#ea1c24" stroke-width="4.8" stroke-linecap="round"/>
<line x1="1533.8" y1="114.4" x2="1595.4" y2="114.4" stroke="#ea1c24" stroke-width="4.8" stroke-linecap="round"/>
<text x="20.2" y="22.8" font-size="12px" font-weight="bold" fill="#37474f" textLength="60.8" lengthAdjust="spacingAndGlyphs">US100cash</text>
<text x="85.6" y="22.1" font-size="7.8px" font-weight="bold" fill="#7d7d7d" textLength="14.4" lengthAdjust="spacingAndGlyphs">CFD</text>
<polygon points="109.4,15 116.6,15 113,19.4" fill="#8a8a8a"/>
<rect x="153.5" y="10.5" width="43" height="15" rx="2" ry="2" fill="#fff" stroke="#e2e2e2" stroke-width="1"/>
<text x="158.7" y="22.9" font-size="9.4px" fill="#333" textLength="11.9" lengthAdjust="spacingAndGlyphs">H4</text>
<polygon points="185,16 192.5,16 188.75,20" fill="#8a8a8a"/>
<text class="ax" x="1806" y="61" text-anchor="end" textLength="49.8" lengthAdjust="spacingAndGlyphs">27273.59</text>
<text class="ax" x="1806" y="99" text-anchor="end" textLength="49.8" lengthAdjust="spacingAndGlyphs">27019.99</text>
<text class="ax" x="1806" y="136" text-anchor="end" textLength="49.8" lengthAdjust="spacingAndGlyphs">26766.38</text>
<text class="ax" x="1806" y="174" text-anchor="end" textLength="49.8" lengthAdjust="spacingAndGlyphs">26512.78</text>
<text class="ax" x="1806" y="212" text-anchor="end" textLength="49.8" lengthAdjust="spacingAndGlyphs">26259.17</text>
<text class="ax" x="1806" y="250" text-anchor="end" textLength="49.8" lengthAdjust="spacingAndGlyphs">26005.57</text>
<text class="ax" x="1806" y="288" text-anchor="end" textLength="49.8" lengthAdjust="spacingAndGlyphs">25751.97</text>
<text class="ax" x="1806" y="325" text-anchor="end" textLength="49.8" lengthAdjust="spacingAndGlyphs">25498.36</text>
<text class="ax" x="1806" y="363" text-anchor="end" textLength="49.8" lengthAdjust="spacingAndGlyphs">25244.76</text>
<text class="ax" x="1806" y="401" text-anchor="end" textLength="49.8" lengthAdjust="spacingAndGlyphs">24991.15</text>
<text class="ax" x="1806" y="439" text-anchor="end" textLength="49.8" lengthAdjust="spacingAndGlyphs">24737.55</text>
<text class="ax" x="1806" y="476" text-anchor="end" textLength="49.8" lengthAdjust="spacingAndGlyphs">24483.94</text>
<text class="ax" x="1806" y="514" text-anchor="end" textLength="49.8" lengthAdjust="spacingAndGlyphs">24230.34</text>
<text class="ax" x="1806" y="552" text-anchor="end" textLength="49.8" lengthAdjust="spacingAndGlyphs">23976.74</text>
<text class="ax" x="1806" y="590" text-anchor="end" textLength="49.8" lengthAdjust="spacingAndGlyphs">23723.13</text>
<text class="ax" x="1806" y="628" text-anchor="end" textLength="49.8" lengthAdjust="spacingAndGlyphs">23469.53</text>
<text class="ax" x="1806" y="665" text-anchor="end" textLength="49.8" lengthAdjust="spacingAndGlyphs">23215.92</text>
<text class="ax" x="1806" y="703" text-anchor="end" textLength="49.8" lengthAdjust="spacingAndGlyphs">22962.32</text>
<text class="ax" x="1806" y="736" text-anchor="end" textLength="49.8" lengthAdjust="spacingAndGlyphs">22708.72</text>
<polygon points="1744,69.5 1752.7,61 1811,61 1811,78 1752.7,78" fill="#44545f"/>
<text x="1805.2" y="74.7" font-size="12px" fill="#fff" text-anchor="end" textLength="50" lengthAdjust="spacingAndGlyphs">27185.75</text>
<text class="ax" x="6.5" y="749" textLength="92.5" lengthAdjust="spacingAndGlyphs">12.03.2026 12:00</text>
<text class="ax" x="141.0" y="749" textLength="62.8" lengthAdjust="spacingAndGlyphs">17.03 08:00</text>
<text class="ax" x="275.6" y="749" textLength="62.8" lengthAdjust="spacingAndGlyphs">20.03 08:00</text>
<text class="ax" x="410.1" y="749" textLength="62.8" lengthAdjust="spacingAndGlyphs">25.03 04:00</text>
<text class="ax" x="544.7" y="749" textLength="62.8" lengthAdjust="spacingAndGlyphs">30.03 04:00</text>
<text class="ax" x="679.3" y="749" textLength="62.8" lengthAdjust="spacingAndGlyphs">02.04 04:00</text>
<text class="ax" x="813.8" y="749" textLength="62.8" lengthAdjust="spacingAndGlyphs">07.04 12:00</text>
<text class="ax" x="948.4" y="749" textLength="62.8" lengthAdjust="spacingAndGlyphs">10.04 12:00</text>
<text class="ax" x="1083.0" y="749" textLength="62.8" lengthAdjust="spacingAndGlyphs">15.04 12:00</text>
<text class="ax" x="1217.6" y="749" textLength="62.8" lengthAdjust="spacingAndGlyphs">20.04 12:00</text>
<text class="ax" x="1352.1" y="749" textLength="62.8" lengthAdjust="spacingAndGlyphs">23.04 12:00</text>
<text class="ax" x="1486.7" y="749" textLength="62.8" lengthAdjust="spacingAndGlyphs">28.04 12:00</text>
<text class="ax" x="1621.3" y="749" textLength="62.8" lengthAdjust="spacingAndGlyphs">01.05 12:00</text>
<text x="1693.2" y="720.8" font-size="13.4px"><tspan fill="#ff8c10">00</tspan><tspan fill="#bfc4c8">h</tspan><tspan fill="#ff8c10" dx="4.4">24</tspan><tspan fill="#bfc4c8" dx="0.8">m</tspan></text>
<g fill="#a8a8a8"><rect x="6" y="695.20" width="10" height="5.7"/><rect x="6" y="702.10" width="10" height="1.8"/></g>
<rect x="11" y="696.40" width="3.8" height="0.8" fill="#fff"/><rect x="11" y="698.90" width="4" height="0.9" fill="#fff" opacity="0.6"/>
<g stroke="#a8a8a8" stroke-width="2.5"><line x1="19.9" y1="696.70" x2="26.8" y2="703.10"/><line x1="26.8" y1="696.70" x2="19.9" y2="703.10"/></g>
<text class="lg" x="31" y="704.80" textLength="100" lengthAdjust="spacingAndGlyphs">SMA [200, 0] 25064.60</text>
<g fill="#a8a8a8"><rect x="6" y="709.25" width="10" height="5.7"/><rect x="6" y="716.15" width="10" height="1.8"/></g>
<rect x="11" y="710.45" width="3.8" height="0.8" fill="#fff"/><rect x="11" y="712.95" width="4" height="0.9" fill="#fff" opacity="0.6"/>
<g stroke="#a8a8a8" stroke-width="2.5"><line x1="19.9" y1="710.75" x2="26.8" y2="717.15"/><line x1="26.8" y1="710.75" x2="19.9" y2="717.15"/></g>
<text class="lg" x="31" y="718.85" textLength="94.4" lengthAdjust="spacingAndGlyphs">SMA [50, 0] 26891.37</text>
<g fill="#a8a8a8"><rect x="6" y="723.30" width="10" height="5.7"/><rect x="6" y="730.20" width="10" height="1.8"/></g>
<rect x="11" y="724.50" width="3.8" height="0.8" fill="#fff"/><rect x="11" y="727.00" width="4" height="0.9" fill="#fff" opacity="0.6"/>
<g stroke="#a8a8a8" stroke-width="2.5"><line x1="19.9" y1="724.80" x2="26.8" y2="731.20"/><line x1="26.8" y1="724.80" x2="19.9" y2="731.20"/></g>
<text class="lg" x="31" y="732.90" textLength="93.8" lengthAdjust="spacingAndGlyphs">SMA [20, 0] 27202.81</text>
<rect x="714" y="211" width="68.2" height="68.8" rx="1.5" ry="1.5" fill="#f5303f"/>
<polygon points="721.2,238.5 741.9,234 749,237.5 758.8,230.6 775.2,227.8 759.4,244.4 778.1,262.9 760.6,260.2 749.4,251.5 739.4,256.9 718.5,252.5 737.5,244.4" fill="#fff"/>
<g font-weight="bold" fill="#000" stroke="#000" stroke-width="2" stroke-linejoin="miter"><text x="795.8" y="255.7" font-size="57.5px" textLength="30.9" lengthAdjust="spacingAndGlyphs">x</text><text x="833.9" y="255.7" font-size="57.5px" textLength="18.8" lengthAdjust="spacingAndGlyphs">t</text><text x="857.8" y="255.8" font-size="54.8px" textLength="37.7" lengthAdjust="spacingAndGlyphs">b</text></g><rect x="837.3" y="215.1" width="10.4" height="11" fill="#000"/>
<text x="794.4" y="272.8" font-size="13.8px" fill="#111" textLength="99" lengthAdjust="spacingAndGlyphs">online investing</text>
</svg></body></html>
